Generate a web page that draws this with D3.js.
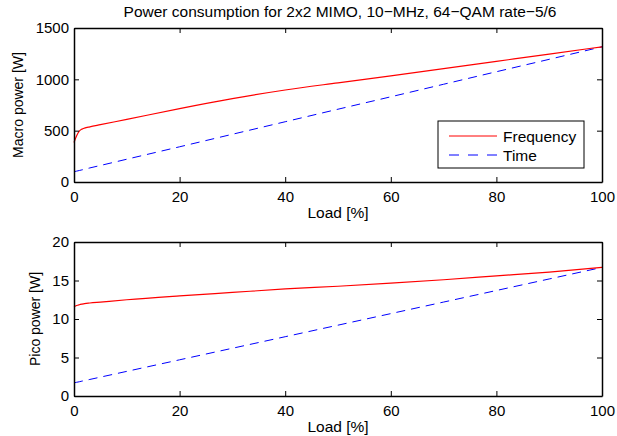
<!DOCTYPE html>
<html>
<head>
<meta charset="utf-8">
<script src="https://cdn.jsdelivr.net/npm/d3@7"></script>
<style>
  body { margin: 0; background: #fff; }
  text { font-family: "Liberation Sans", Arial, sans-serif; }
</style>
</head>
<body>
<div id="chart"></div>
<script>
// data
const load = [0, 0.5, 1, 1.5, 2, 3, 5, 10, 20, 30, 40, 50, 60, 70, 80, 90, 100];
const macroFreq = [385, 450, 495, 515, 525, 537, 558, 610, 715, 812, 896, 966, 1034, 1104, 1175, 1246, 1317];
const macroTime = [100, 106, 112, 118, 124, 137, 161, 222, 343, 465, 587, 709, 830, 952, 1074, 1195, 1317];
const picoFreq = [11.6, 11.75, 11.85, 11.93, 12.0, 12.08, 12.2, 12.5, 13.0, 13.45, 13.9, 14.25, 14.65, 15.1, 15.6, 16.1, 16.7];
const picoTime = [1.7, 1.78, 1.85, 1.93, 2.0, 2.15, 2.45, 3.2, 4.7, 6.2, 7.7, 9.2, 10.7, 12.2, 13.7, 15.2, 16.7];
const xTicks = [0, 20, 40, 60, 80, 100];
const macroTicks = [0, 500, 1000, 1500];
const picoTicks = [0, 5, 10, 15, 20];

const svg = d3.select("#chart").append("svg")
    .attr("width", 617)
    .attr("height", 436);

const x = d3.scaleLinear().domain([0, 100]).range([74, 602]);

function panel(top, bottom, ymax, yTicks, freq, time, ylabel, labelX, withLegend) {
    const y = d3.scaleLinear().domain([0, ymax]).range([bottom, top]);
    const g = svg.append("g");

    const line = d3.line()
        .x((d, i) => x(load[i]))
        .y(d => y(d))
        .curve(d3.curveMonotoneX);

    g.append("path").datum(time)
        .attr("d", line)
        .attr("fill", "none")
        .attr("stroke", "#0000ff")
        .attr("stroke-width", 1)
        .attr("stroke-dasharray", "9,6");

    g.append("path").datum(freq)
        .attr("d", line)
        .attr("fill", "none")
        .attr("stroke", "#ff0000")
        .attr("stroke-width", 1.2);

    // axes with inward ticks on every side
    g.append("g").attr("transform", `translate(0,${bottom})`)
        .call(d3.axisBottom(x).tickValues(xTicks).tickSizeInner(-5).tickSizeOuter(0).tickPadding(9));
    g.append("g").attr("transform", `translate(0,${top})`)
        .call(d3.axisTop(x).tickValues(xTicks).tickSizeInner(-5).tickSizeOuter(0).tickFormat(""));
    g.append("g").attr("transform", `translate(${x(0)},0)`)
        .call(d3.axisLeft(y).tickValues(yTicks).tickSizeInner(-5).tickSizeOuter(0).tickPadding(5).tickFormat(d3.format("d")));
    g.append("g").attr("transform", `translate(${x(100)},0)`)
        .call(d3.axisRight(y).tickValues(yTicks).tickSizeInner(-5).tickSizeOuter(0).tickFormat(""));

    g.selectAll(".domain").attr("stroke", "#000").attr("stroke-width", 1.5);
    g.selectAll(".tick line").attr("stroke", "#000");
    g.selectAll(".tick text").attr("font-size", 15).attr("fill", "#000")
        .style("font-family", "'Liberation Sans', Arial, sans-serif");

    g.append("text")
        .attr("x", (x(0) + x(100)) / 2)
        .attr("y", bottom + 36)
        .attr("text-anchor", "middle")
        .attr("font-size", 15.5)
        .text("Load [%]");

    g.append("text")
        .attr("transform", `translate(${labelX},${(top + bottom) / 2}) rotate(-90)`)
        .attr("text-anchor", "middle")
        .attr("font-size", 14)
        .text(ylabel);

    if (withLegend) {
        const lg = g.append("g");
        lg.append("rect")
            .attr("x", 438).attr("y", 121)
            .attr("width", 146).attr("height", 47)
            .attr("fill", "#fff").attr("stroke", "#000").attr("stroke-width", 1);
        const items = [
            { name: "Frequency", color: "#ff0000", dash: null, yy: 136 },
            { name: "Time", color: "#0000ff", dash: "10,9", yy: 155 }
        ];
        items.forEach(it => {
            lg.append("line")
                .attr("x1", 449).attr("x2", 497)
                .attr("y1", it.yy).attr("y2", it.yy)
                .attr("stroke", it.color)
                .attr("stroke-dasharray", it.dash);
            lg.append("text")
                .attr("x", 503).attr("y", it.yy + 5.5)
                .attr("font-size", 15.5)
                .text(it.name);
        });
    }
}

panel(28, 182, 1500, macroTicks, macroFreq, macroTime, "Macro power [W]", 23, true);
panel(242, 396, 20, picoTicks, picoFreq, picoTime, "Pico power [W]", 40, false);

svg.append("text")
    .attr("x", 340)
    .attr("y", 17)
    .attr("text-anchor", "middle")
    .attr("font-size", 15.5)
    .text("Power consumption for 2x2 MIMO, 10\u2212MHz, 64\u2212QAM rate\u22125/6");
</script>
</body>
</html>
